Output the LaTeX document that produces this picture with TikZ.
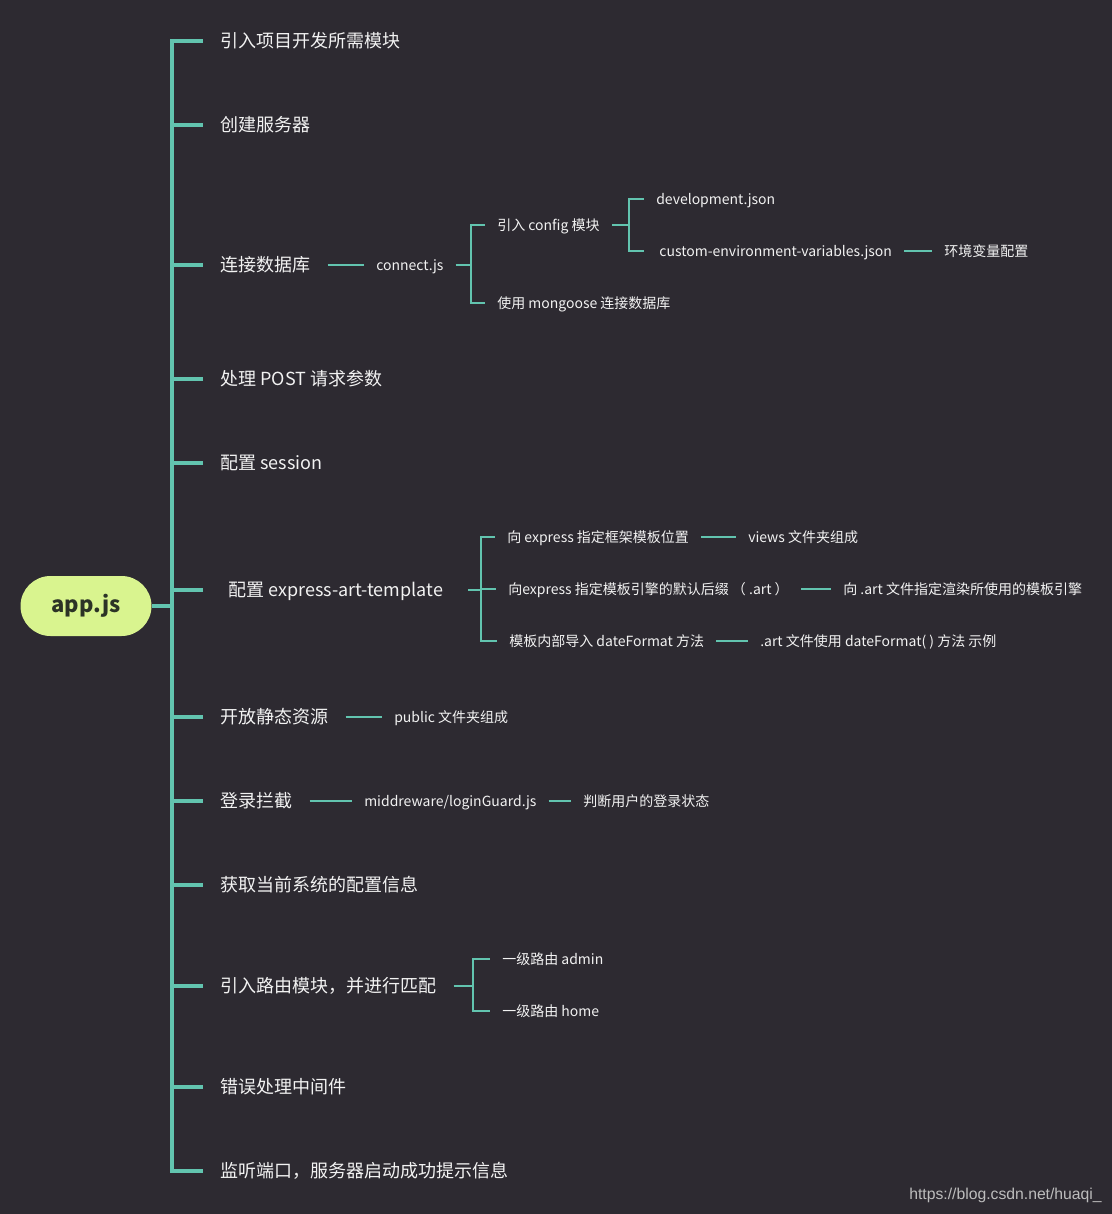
\documentclass[tikz,border=0pt]{standalone}
\usepackage{fontspec}
\setmainfont{Noto Sans CJK SC}
\newfontfamily\wmfont{Liberation Sans}
\usepackage{xcolor}
\usepackage{tikz}
\definecolor{mapbg}{HTML}{2D2A31}
\definecolor{mapteal}{HTML}{62C4AF}
\definecolor{maplime}{HTML}{D9F48F}
\definecolor{mapink}{HTML}{F2F2F2}
\definecolor{maproot}{HTML}{2C3326}
\definecolor{mapgray}{HTML}{BDBDBD}
\tikzset{
  topic/.style={anchor=west,inner xsep=12.75pt,inner ysep=0pt,text height=0.98em,text depth=0.02em,
    text=mapink,font=\fontsize{13.5}{16}\selectfont},
  leaf/.style={anchor=west,inner xsep=9pt,inner ysep=0pt,text height=0.9em,text depth=0.1em,
    text=mapink,font=\fontsize{10.5}{13}\selectfont},
  rootbox/.style={fill=maplime,rounded corners=22.5pt,minimum width=98.25pt,minimum height=45pt,
    inner sep=0pt,text=maproot,font=\fontsize{16.5}{19}\selectfont\bfseries},
  trunk/.style={draw=mapteal,line width=2.4pt},
  twig/.style={draw=mapteal,line width=1.5pt},
}

\begin{document}
\begin{tikzpicture}[x=0.75pt,y=-0.75pt]
    \fill[mapbg] (0,0) rectangle (1112,1214);
    \useasboundingbox (0,0) rectangle (1112,1214);

    \node[rootbox] (root) at (86,606) {app.js};
    \coordinate (trunk) at (172,606);

    % first level
    \node[topic] (t1) at (203,41) {引入项目开发所需模块};
    \node[topic] (t2) at (203,125) {创建服务器};
    \node[topic] (t3) at (203,265) {连接数据库};
    \node[topic] (t4) at (203,379) {处理 POST 请求参数};
    \node[topic] (t5) at (203,463) {配置 session};
    \node[topic,inner xsep=18.75pt] (t6) at (203,590) {配置 express-art-template};
    \node[topic] (t7) at (203,717) {开放静态资源};
    \node[topic] (t8) at (203,801) {登录拦截};
    \node[topic] (t9) at (203,885) {获取当前系统的配置信息};
    \node[topic] (t10) at (203,986) {引入路由模块，并进行匹配};
    \node[topic] (t11) at (203,1087) {错误处理中间件};
    \node[topic] (t12) at (203,1171) {监听端口，服务器启动成功提示信息};

    \draw[trunk] (root.east) -- (trunk);
    \foreach \t in {t1,t2,t3,t4,t5,t6,t7,t8,t9,t10,t11,t12}
      \draw[trunk] (trunk) |- (\t.west);

    % database
    \node[leaf] (cj) at (364,265) {connect.js};
    \node[leaf] (cfg) at (485,225) {引入 config 模块};
    \node[leaf] (mongo) at (485,303) {使用 mongoose 连接数据库};
    \node[leaf] (dev) at (644,199) {development.json};
    \node[leaf] (cev) at (644,251) {\ custom-environment-variables.json};
    \node[leaf] (envv) at (932,251) {环境变量配置};
    \coordinate (b3) at (471,265);
    \coordinate (bcfg) at (629,225);
    \draw[twig] (t3.east) -- (cj.west);
    \draw[twig] (cj.east) -- (b3);
    \foreach \c in {cfg,mongo} \draw[twig] (b3) |- (\c.west);
    \draw[twig] (cfg.east) -- (bcfg);
    \foreach \c in {dev,cev} \draw[twig] (bcfg) |- (\c.west);
    \draw[twig] (cev.east) -- (envv.west);

    % template engine
    \node[leaf] (tplpos) at (495,537) {向 express 指定框架模板位置};
    \node[leaf] (views) at (736,537) {views 文件夹组成};
    \node[leaf] (tplext) at (496,589) {向express 指定模板引擎的默认后缀 （ .art ）};
    \node[leaf] (tplfor) at (831,589) {向 .art 文件指定渲染所使用的模板引擎};
    \node[leaf] (tpldf) at (497,641) {模板内部导入 dateFormat 方法};
    \node[leaf] (dfdemo) at (748,641) {.art 文件使用 dateFormat( ) 方法 示例};
    \coordinate (b6) at (481,590);
    \draw[twig] (t6.east) -- (b6);
    \foreach \c in {tplpos,tplext,tpldf} \draw[twig] (b6) |- (\c.west);
    \draw[twig] (tplpos.east) -- (views.west);
    \draw[twig] (tplext.east) -- (tplfor.west);
    \draw[twig] (tpldf.east) -- (dfdemo.west);

    % static, guard
    \node[leaf] (pub) at (382,717) {public 文件夹组成};
    \node[leaf] (guard) at (352,801) {middreware/loginGuard.js};
    \node[leaf] (login) at (571,801) {判断用户的登录状态};
    \draw[twig] (t7.east) -- (pub.west);
    \draw[twig] (t8.east) -- (guard.west);
    \draw[twig] (guard.east) -- (login.west);

    % routes
    \node[leaf] (admin) at (490,959) {一级路由 admin};
    \node[leaf] (home) at (490,1011) {一级路由 home};
    \coordinate (b10) at (473,986);
    \draw[twig] (t10.east) -- (b10);
    \foreach \c in {admin,home} \draw[twig] (b10) |- (\c.west);

    \node[anchor=east,inner sep=0pt,text=mapgray,font=\wmfont\fontsize{11.8}{14}\selectfont] (wm) at (1102,1195) {https://blog.csdn.net/huaqi\_};
\end{tikzpicture}
\end{document}
